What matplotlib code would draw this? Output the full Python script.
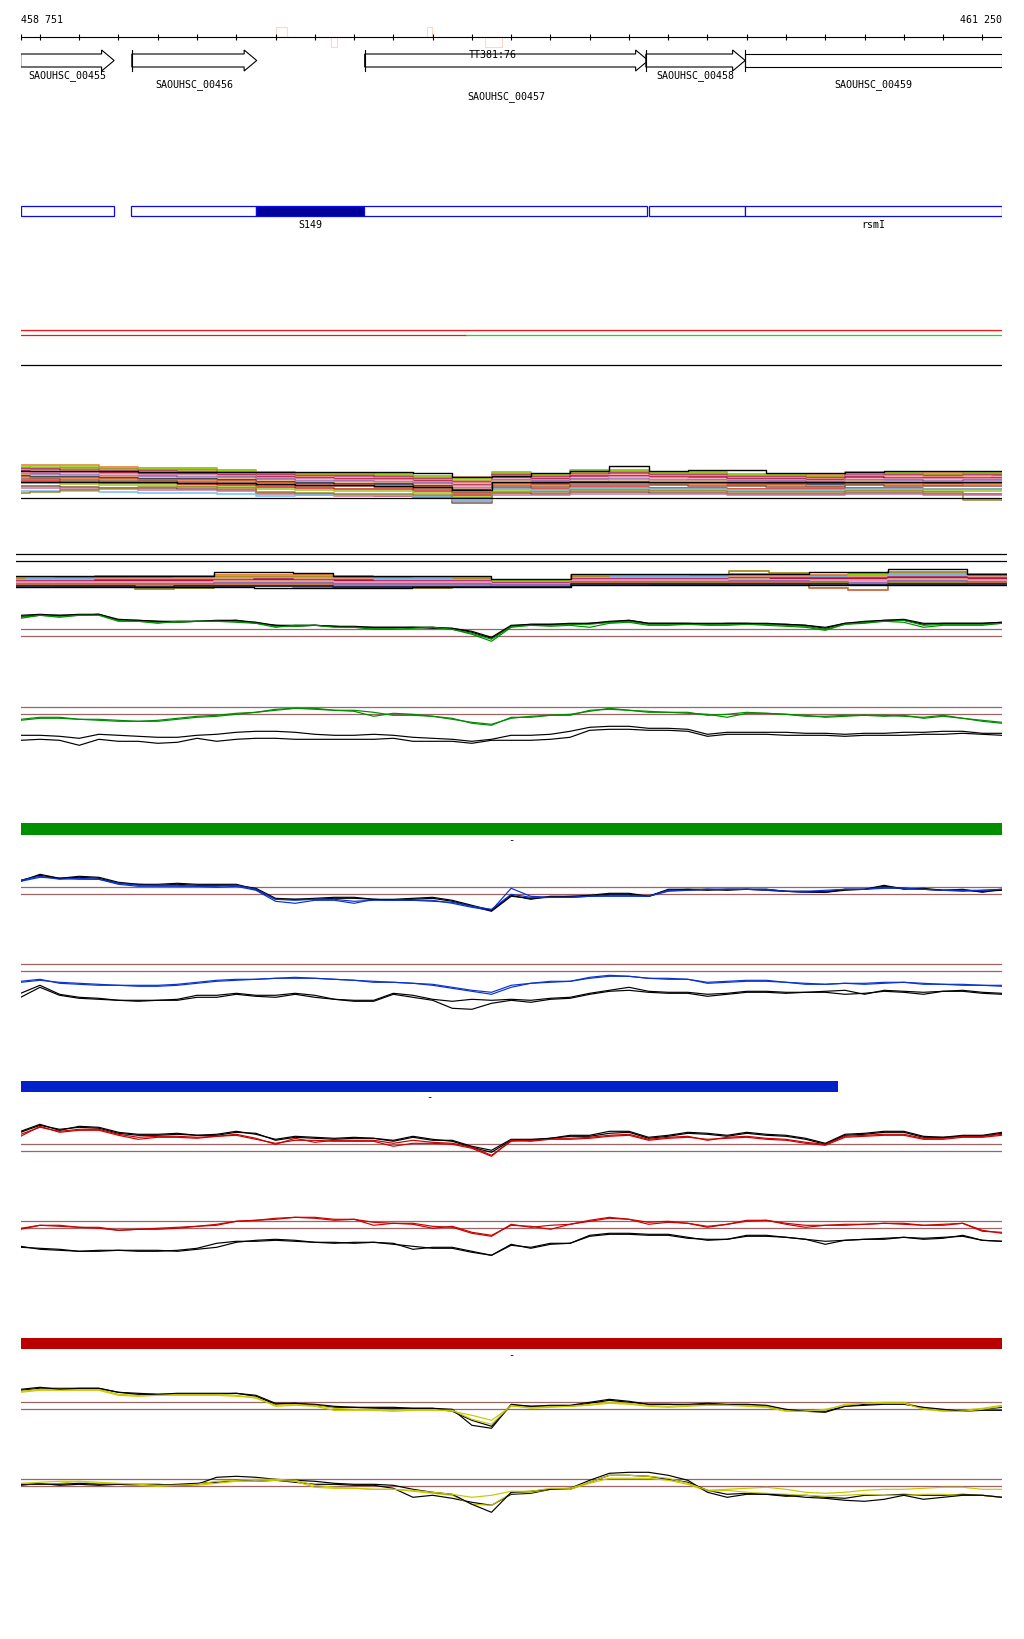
import matplotlib
matplotlib.use("Agg")
import matplotlib.pyplot as plt
from matplotlib.patches import Polygon, Rectangle

# ---------------- data ----------------
START, END = 458751, 461250
TICKS = [458751] + list(range(458800, 461201, 100)) + [461250]
POS = [458751] + list(range(458800, 461201, 50)) + [461250]
POS100 = [458751] + list(range(458800, 461201, 100)) + [461250]

GENE_NAMES = ["SAOUHSC_00455", "SAOUHSC_00456", "SAOUHSC_00457", "SAOUHSC_00458", "SAOUHSC_00459"]
GENE_START = [458620, 459034, 459627, 460343, 460596]
GENE_END = [458989, 459352, 460349, 460596, 461700]
GENE_LANE = [0, 1, 2, 0, 1]
TERM_LABEL = "TT381:76"
TERM_POS = 459953

MARK_START = [459400, 459541, 459786, 459934]
MARK_END = [459428, 459556, 459799, 459977]
MARK_SIDE = [1, -1, 1, -1]

FEAT_NAMES = ["", "", "S149", "", "", "rsmI"]
FEAT_START = [458620, 459033, 459350, 459625, 460351, 460596]
FEAT_END = [458988, 459350, 459625, 460345, 460595, 461700]
FEAT_FILLED = [False, False, True, False, False, False]

COV_SWITCH = 459884
BAR_GREEN_END = 461250
BAR_BLUE_END = 460832
BAR_RED_END = 461250

# multi-sample track 1 (27 points, POS100)
T1_ORANGE = [33,33,33,31,30,30,28,26,25,25,24,22,21,26,24,28,28,26,26,24,24,23,26,26,25,26,26]
T1_LIME = [31,32,31,30,29,29,27,25,24,24,23,21,19,25,23,27,27,25,25,23,23,22,26,25,24,25,25]
T1_OLIVE = [30,30,30,29,28,28,26,24,23,23,22,20,17,24,22,26,26,24,24,22,22,21,25,24,23,24,24]
T1_MAGENTA = [29,29,28,27,27,26,25,23,22,22,21,19,16,23,21,24,25,23,23,21,21,20,23,23,22,23,23]
T1_SALMON = [28,27,27,26,26,25,24,22,21,20,20,18,15,22,20,23,23,22,22,20,20,19,22,22,21,22,21]
T1_DARKRED = [27,26,26,25,24,24,23,21,20,19,19,17,13,21,19,22,22,21,21,19,19,18,21,20,20,20,20]
T1_PINK = [26,25,25,24,23,23,22,20,19,18,18,16,12,19,18,20,21,20,19,18,18,17,19,19,19,19,19]
T1_PURPLE = [24,24,23,22,22,21,21,19,17,17,16,15,10,18,17,19,19,18,18,17,17,16,18,18,17,18,18]
T1_TAN = [23,22,22,21,20,20,19,17,16,16,15,13,9,17,15,17,18,17,17,16,15,15,17,16,16,16,16]
T1_NAVY = [22,21,21,20,19,19,18,16,15,14,14,12,8,15,14,16,16,15,15,14,14,14,15,15,15,15,15]
T1_ORANGE2 = [21,20,20,19,18,18,17,15,13,13,12,11,6,14,13,15,15,14,14,13,13,12,14,14,13,14,14]
T1_BROWN = [19,19,18,17,17,16,15,13,12,12,11,9,5,12,11,13,13,13,12,12,11,11,13,12,12,12,12]
T1_RED = [17,17,16,15,15,14,13,11,10,9,9,7,3,10,9,11,11,10,10,9,9,9,10,10,9,9,9]
T1_YGREEN = [15,15,14,13,13,12,11,9,8,7,7,5,1,8,7,9,9,8,8,7,7,7,8,8,7,7,7]
T1_MAUVE = [12,12,11,10,10,9,8,5,4,3,2,1,-5,5,4,6,6,5,5,4,4,4,5,5,4,4,4]
T1_PINK2 = [10,10,9,9,8,8,7,4,3,2,2,0,-3,3,3,4,4,4,4,3,3,3,4,4,3,3,3]
T1_SKY = [7,7,7,6,5,5,4,2,3,3,3,2,-2,9,8,10,10,9,9,8,8,8,9,9,9,9,9]
T1_OLIVE2 = [5,6,8,10,11,11,10,6,5,4,4,3,0,6,6,8,8,7,7,6,6,6,7,7,6,-2,-2]
T1_BLACK_TOP = [27,27,27,27,26,26,26,26,26,26,26,25,21,22,25,27,32,27,28,28,25,25,26,27,27,27,27]
T1_BLACK_MID = [16,16,16,16,16,15,15,14,13,13,12,11,8,16,16,16,16,16,16,16,16,16,16,16,16,16,16]

# multi-sample track 2 (27 points, POS100)
T2_ORANGE = [12,12,12,13,13,13,14,14,14,13,12,12,12,8,8,14,14,14,14,15,15,14,15,16,16,15,15]
T2_LIME = [11,11,11,12,12,12,13,13,13,12,11,11,11,8,8,13,13,13,13,14,14,13,14,15,15,14,14]
T2_OLIVE = [10,10,11,11,11,11,12,12,12,11,11,10,10,7,7,12,12,12,13,18,16,13,13,17,17,13,13]
T2_SKY = [9,10,10,10,10,12,11,11,11,10,10,10,9,7,7,11,12,12,12,13,13,12,13,14,14,12,12]
T2_SALMON = [9,9,9,10,10,10,10,10,10,10,9,9,9,6,6,11,11,11,11,12,12,11,12,13,13,12,12]
T2_MAGENTA = [8,8,8,9,9,9,9,10,9,9,8,8,8,6,6,10,10,10,10,11,11,11,11,12,12,11,11]
T2_DARKRED = [7,7,7,8,8,8,8,9,8,8,7,7,7,5,5,9,9,9,9,10,10,10,10,11,11,10,10]
T2_TAN = [7,7,7,7,7,7,8,8,8,7,7,7,7,5,5,9,9,9,9,10,9,9,9,10,10,9,9]
T2_PINK = [6,6,6,6,6,6,7,7,7,6,6,6,6,4,4,8,8,8,8,9,9,8,8,9,9,8,8]
T2_PURPLE = [5,5,5,5,5,5,6,6,6,5,5,5,5,4,4,7,7,7,7,8,8,7,6,8,8,7,7]
T2_OLIVE2 = [4,4,3,2,0,1,3,3,2,1,1,1,2,3,3,6,6,6,6,7,7,6,5,6,6,6,6]
T2_RUST = [5,5,4,4,4,4,4,4,4,3,3,3,3,3,3,6,6,5,5,6,6,1,-1,5,5,6,6]
T2_NAVY = [3,3,3,3,2,3,3,3,3,2,2,2,2,2,2,5,5,5,5,5,5,5,4,5,5,5,5]
T2_BLACK_TOP = [13,13,13,13,13,13,17,17,16,13,13,13,13,10,10,15,15,15,15,15,15,17,17,20,20,15,15]
T2_BLACK_BOT = [2,2,2,2,2,2,2,1,1,1,1,2,2,2,2,4,4,4,4,4,4,4,4,4,4,4,4]

# green condition (51 points, POS)
G1_K1 = [14,15,14,15,15,10,9,8,8,8,9,9,7,4,4,4,3,3,2,2,2,2,1,-2,-8,4,5,5,6,6,8,9,6,6,6,6,6,6,6,5,4,2,6,8,9,10,6,6,6,6,7]
G1_K2 = [13,14,14,14,15,9,9,8,7,8,8,9,6,4,3,4,3,2,2,2,2,1,1,-3,-9,3,5,5,5,6,7,9,6,6,6,5,6,6,5,5,4,1,6,7,9,9,5,6,6,6,7]
G1_C1 = [11,14,12,14,14,8,8,6,8,8,8,7,6,2,4,4,2,2,0,0,1,2,0,-5,-12,2,4,3,4,2,6,7,4,4,5,4,4,5,4,3,2,-1,5,6,8,7,2,4,4,4,6]
G1_C2 = [12,14,13,14,15,9,8,7,7,8,8,8,7,3,3,4,3,2,1,1,2,2,0,-4,-10,3,4,4,5,5,7,8,5,5,5,5,5,5,5,4,3,0,5,7,8,9,4,5,5,5,6]
G2_C1 = [-12,-10,-10,-12,-12,-13,-14,-14,-12,-10,-9,-7,-5,-3,-1,-1,-3,-3,-5,-8,-8,-9,-11,-16,-18,-10,-10,-8,-8,-3,-2,-3,-5,-5,-5,-8,-7,-5,-6,-7,-9,-9,-8,-8,-8,-9,-10,-8,-11,-13,-15]
G2_C2 = [-13,-11,-11,-12,-13,-14,-14,-13,-11,-9,-8,-6,-5,-2,-1,-2,-3,-4,-9,-6,-7,-9,-12,-15,-17,-11,-9,-8,-7,-4,-1,-3,-4,-5,-6,-7,-10,-6,-6,-7,-8,-10,-9,-8,-9,-8,-11,-9,-11,-14,-16]
G2_K1 = [-28,-28,-29,-31,-27,-28,-29,-30,-30,-28,-27,-25,-24,-24,-25,-27,-28,-28,-27,-28,-30,-31,-32,-34,-32,-28,-28,-27,-24,-20,-19,-19,-21,-21,-22,-27,-25,-25,-25,-25,-26,-26,-27,-26,-26,-25,-25,-24,-24,-26,-26]
G2_K2 = [-33,-32,-33,-38,-32,-34,-34,-36,-35,-31,-34,-32,-31,-31,-32,-32,-32,-32,-32,-31,-34,-34,-34,-36,-33,-33,-33,-32,-30,-23,-22,-22,-23,-23,-24,-29,-27,-27,-27,-28,-28,-28,-29,-28,-28,-28,-27,-27,-26,-27,-28]

# blue condition
B1_C1 = [7,11,8,9,8,4,2,2,2,1,1,2,-2,-12,-13,-12,-12,-14,-13,-13,-13,-14,-15,-19,-22,-7,-10,-10,-10,-9,-8,-8,-9,-3,-3,-2,-2,-2,-2,-4,-4,-3,-2,-2,0,-1,-2,-3,-3,-3,-2]
B1_C2 = [6,10,9,8,8,3,1,1,1,1,0,1,-3,-14,-16,-13,-13,-16,-12,-13,-13,-13,-16,-20,-23,-1,-9,-10,-9,-9,-9,-9,-9,-4,-3,-2,-2,-2,-3,-4,-5,-4,-2,-2,-1,-1,-2,-3,-4,-3,-2]
B1_K1 = [7,12,9,11,10,5,3,3,4,3,3,3,-2,-12,-12,-11,-10,-10,-12,-12,-11,-10,-13,-18,-23,-8,-12,-9,-9,-8,-6,-6,-9,-2,-2,-3,-2,-2,-2,-4,-4,-5,-2,-2,2,-2,-1,-3,-2,-5,-2]
B1_K2 = [6,13,9,10,9,4,3,2,3,2,2,2,-1,-11,-12,-12,-11,-11,-12,-13,-12,-11,-14,-19,-24,-9,-11,-10,-10,-9,-7,-7,-9,-3,-2,-2,-3,-2,-3,-4,-5,-5,-3,-2,1,-1,-2,-3,-3,-4,-3]
B2_C1 = [-17,-15,-19,-20,-21,-21,-21,-21,-20,-18,-16,-15,-15,-14,-14,-14,-15,-16,-17,-18,-19,-20,-23,-26,-28,-21,-19,-18,-17,-13,-11,-12,-14,-15,-15,-18,-17,-16,-16,-18,-20,-20,-19,-19,-18,-18,-20,-20,-20,-21,-21]
B2_C2 = [-18,-16,-18,-19,-20,-21,-22,-22,-21,-19,-17,-16,-15,-14,-13,-14,-15,-16,-18,-18,-19,-21,-24,-27,-30,-23,-19,-17,-17,-14,-12,-12,-14,-14,-15,-19,-18,-17,-17,-18,-19,-20,-19,-20,-19,-18,-19,-20,-21,-21,-22]
B2_K1 = [-29,-21,-30,-33,-34,-36,-36,-36,-35,-31,-31,-29,-31,-31,-29,-31,-35,-36,-36,-29,-31,-35,-37,-35,-36,-35,-36,-34,-33,-29,-26,-23,-27,-28,-28,-30,-29,-27,-27,-28,-28,-27,-26,-30,-26,-27,-28,-27,-26,-28,-29]
B2_K2 = [-33,-23,-31,-34,-35,-36,-37,-36,-36,-33,-33,-30,-32,-33,-30,-33,-35,-37,-37,-30,-33,-36,-44,-45,-39,-36,-38,-35,-34,-30,-27,-26,-28,-29,-29,-32,-30,-28,-28,-29,-28,-28,-30,-29,-27,-28,-30,-27,-27,-29,-30]

# red condition
R1_K1 = [13,20,14,18,17,12,10,10,11,9,10,13,10,5,8,7,6,7,6,3,7,4,4,-2,-6,5,5,6,9,9,13,13,7,9,12,11,9,12,10,9,6,1,10,11,13,13,8,7,9,9,12]
R1_K2 = [12,19,15,17,16,11,9,9,10,9,9,12,11,4,7,6,5,6,6,4,8,5,3,-3,-8,4,4,6,8,8,11,12,6,8,11,10,8,11,9,8,5,0,9,10,12,12,7,7,8,8,11]
R1_C1 = [8,18,12,14,14,9,5,7,7,6,8,9,5,1,4,4,3,3,3,-2,1,1,0,-4,-12,4,3,5,5,6,8,9,4,6,7,5,6,7,5,4,1,-1,7,8,9,9,5,5,7,7,9]
R1_C2 = [10,17,13,15,15,10,7,8,8,7,8,10,6,0,6,2,4,4,4,1,4,2,1,-3,-11,3,4,6,6,7,9,10,5,7,8,4,7,8,6,5,2,0,8,9,10,10,6,6,8,8,10]
R2_C1 = [-8,-4,-4,-6,-6,-9,-8,-8,-7,-5,-4,0,1,2,4,4,2,2,-1,-2,-2,-5,-6,-12,-15,-3,-6,-4,-3,1,4,2,-1,0,-2,-5,-3,1,1,-2,-4,-4,-4,-3,-2,-3,-4,-4,-2,-10,-11]
R2_C2 = [-7,-4,-5,-6,-7,-9,-8,-7,-6,-5,-3,0,1,3,4,3,1,2,-4,-2,-3,-7,-5,-11,-14,-4,-5,-8,-3,0,3,2,-3,-1,-2,-6,-3,0,1,-3,-6,-4,-3,-3,-2,-2,-4,-3,-2,-9,-12]
R2_K1 = [-26,-27,-28,-30,-29,-29,-29,-29,-30,-28,-26,-21,-19,-18,-19,-21,-22,-21,-21,-22,-28,-26,-26,-30,-34,-24,-26,-22,-22,-14,-12,-12,-13,-13,-16,-19,-18,-14,-14,-16,-18,-23,-19,-18,-17,-16,-18,-17,-14,-19,-20]
R2_K2 = [-25,-28,-29,-30,-30,-29,-30,-30,-29,-27,-22,-20,-20,-19,-20,-21,-21,-22,-21,-23,-25,-27,-27,-31,-34,-23,-27,-23,-22,-15,-13,-13,-14,-14,-17,-18,-18,-15,-15,-16,-18,-20,-19,-18,-18,-16,-17,-16,-15,-19,-20]

# yellow condition
Y1_K1 = [13,15,13,14,14,10,8,8,9,9,9,9,7,-1,-1,-2,-4,-5,-5,-5,-6,-6,-7,-23,-26,-2,-4,-3,-3,0,3,1,-2,-2,-2,-1,-2,-2,-3,-7,-9,-10,-4,-3,-2,-2,-5,-7,-9,-8,-8]
Y1_K2 = [12,14,14,14,14,10,9,8,8,8,8,9,6,-2,-1,-3,-5,-5,-6,-6,-6,-6,-9,-18,-24,-3,-4,-4,-4,-1,2,0,-2,-2,-3,-2,-3,-3,-4,-8,-9,-9,-4,-2,-1,-1,-6,-8,-8,-7,-5]
Y1_C1 = [10,12,12,12,12,7,6,7,7,7,7,6,5,-4,-3,-4,-8,-8,-8,-9,-8,-8,-8,-17,-22,-3,-6,-5,-4,-3,-1,-2,-4,-5,-4,-3,-3,-4,-5,-9,-9,-7,-3,-1,-1,-1,-7,-9,-9,-7,-4]
Y1_C2 = [11,13,13,13,13,8,7,7,8,8,8,7,4,-3,-2,-3,-6,-7,-7,-8,-7,-7,-9,-13,-18,-4,-5,-4,-4,-2,0,-1,-3,-4,-3,-3,-3,-3,-4,-8,-9,-8,-2,-1,0,0,-6,-8,-8,-6,-3]
Y2_K1 = [-5,-5,-5,-4,-5,-5,-5,-5,-6,-5,2,3,2,0,-1,-2,-4,-5,-5,-6,-10,-13,-15,-25,-33,-13,-12,-10,-9,-1,6,7,7,4,-1,-13,-18,-15,-15,-16,-18,-19,-21,-22,-20,-16,-20,-18,-16,-16,-18]
Y2_K2 = [-6,-4,-6,-5,-6,-5,-6,-6,-5,-4,-3,-1,-2,-1,-3,-5,-5,-6,-6,-9,-18,-16,-19,-23,-26,-15,-14,-10,-10,-3,4,4,3,0,-3,-11,-15,-14,-15,-17,-16,-18,-19,-16,-16,-15,-16,-16,-15,-16,-18]
Y2_C1 = [-4,-3,-2,-2,-3,-4,-5,-6,-6,-5,-2,-1,0,0,-1,-6,-8,-9,-10,-10,-11,-13,-15,-18,-16,-12,-12,-9,-9,-3,4,4,3,1,-4,-11,-10,-9,-8,-10,-13,-14,-13,-11,-10,-10,-9,-8,-8,-10,-10]
Y2_C2 = [-5,-5,-4,-2,-5,-5,-6,-7,-6,-6,-4,-2,-2,-1,-2,-8,-9,-9,-10,-10,-12,-14,-16,-25,-26,-14,-13,-10,-10,-4,1,1,1,-1,-5,-12,-11,-13,-14,-15,-16,-17,-16,-15,-16,-16,-15,-15,-16,-16,-18]

# ---------------- style / layout ----------------
W, H = 1024, 1640
X0, X1 = 20.7, 1002.0
FONT = dict(family="DejaVu Sans Mono", size=7.2, color="black")
BROWN = "#9c6464"
GREEN, BLUE, RED, YELLOW = "#008c00", "#0a32d2", "#cc0000", "#c8c800"

fig = plt.figure(figsize=(W / 100, H / 100), dpi=100)
fig.patch.set_facecolor("white")

base = fig.add_axes([X0 / W, 0, (X1 - X0) / W, 1])
base.set_xlim(START, END)
base.set_ylim(H, 0)
base.axis("off")

# coordinate labels
base.text(START, 20, f"{START:,}".replace(",", " "), ha="left", va="center", **FONT)
base.text(END, 20, f"{END:,}".replace(",", " "), ha="right", va="center", **FONT)

# faint marks around the ruler
for s, e, side in zip(MARK_START, MARK_END, MARK_SIDE):
    y = 28 if side == 1 else 38
    base.add_patch(Rectangle((s, y), e - s, 10, facecolor="none",
                             edgecolor="#ffd6c8", lw=0.8, zorder=1))

# ruler
base.plot([START, END], [38, 38], color="black", lw=0.8, zorder=2)
base.vlines(TICKS, 35, 41, color="black", lw=0.8, zorder=2)

# genes
HEAD_BP = 32
LANE_ROWS = [76, 85, 97]
for name, s, e, lane in zip(GENE_NAMES, GENE_START, GENE_END, GENE_LANE):
    sc, ec = max(s, START), min(e, END)
    if e <= END:
        xb = ec - HEAD_BP
        pts = [(sc, 55), (xb, 55), (xb, 51), (ec, 61.5), (xb, 72), (xb, 68), (sc, 68)]
    else:
        pts = [(sc, 55), (ec, 55), (ec, 68), (sc, 68)]
    base.add_patch(Polygon(pts, closed=True, facecolor="white", edgecolor="black",
                           lw=0.8, zorder=3))
    if s >= START:
        base.plot([s, s], [51, 72], color="black", lw=0.8, zorder=4)
    base.text((sc + ec) / 2, LANE_ROWS[lane], name, ha="center", va="center", zorder=5, **FONT)
base.text(TERM_POS, 55.5, TERM_LABEL, ha="center", va="center", zorder=6, **FONT)

# feature boxes
for name, s, e, filled in zip(FEAT_NAMES, FEAT_START, FEAT_END, FEAT_FILLED):
    sc, ec = max(s, START), min(e, END)
    base.add_patch(Rectangle((sc, 207.3), ec - sc, 10,
                             facecolor="#000099" if filled else "white",
                             edgecolor="#0a0aee", lw=0.9, zorder=3))
    if name:
        base.text((sc + ec) / 2, 225.5, name, ha="center", va="center", **FONT)

# coverage lines
base.plot([START, END], [331.3, 331.3], color="#ff1010", lw=0.9)
base.plot([START, COV_SWITCH], [336, 336], color="#ff1010", lw=0.9)
base.plot([COV_SWITCH, END], [336, 336], color="#10e010", lw=0.9)
base.plot([START, END], [366, 366], color="black", lw=0.9)

# condition bars
for end, top, hgt, col in [(BAR_GREEN_END, 824, 11.7, "#008f00"),
                           (BAR_BLUE_END, 1082.3, 10.4, "#0022c8"),
                           (BAR_RED_END, 1338.7, 11.7, "#bb0000")]:
    base.add_patch(Rectangle((START, top), end - START, hgt, facecolor=col,
                             edgecolor="none"))
    base.text((START + end) / 2, top + hgt + 4.5, "-", ha="center", va="center",
              family="DejaVu Sans Mono", size=7.5)


def track_ax(ref_row, x0=X0, x1=X1, up=50, down=55):
    ax = fig.add_axes([x0 / W, 1 - (ref_row + down) / H, (x1 - x0) / W, (up + down) / H])
    ax.set_xlim(START, END)
    ax.set_ylim(-down, up)
    ax.axis("off")
    ax.patch.set_alpha(0)
    return ax


# multi-sample track 1
ax = track_ax(499.3)
t1 = [(T1_ORANGE, "#e87830"), (T1_LIME, "#7adc00"), (T1_OLIVE, "#a88c20"),
      (T1_MAGENTA, "#b4287c"), (T1_SALMON, "#f2907c"), (T1_DARKRED, "#a8143c"),
      (T1_PINK, "#e898b8"), (T1_PURPLE, "#9060b0"), (T1_TAN, "#d8a878"),
      (T1_NAVY, "#182848"), (T1_ORANGE2, "#f06820"), (T1_BROWN, "#8a5a48"),
      (T1_RED, "#d82020"), (T1_YGREEN, "#98c818"), (T1_MAUVE, "#84584c"),
      (T1_PINK2, "#d070a0"), (T1_SKY, "#70c0f0"), (T1_OLIVE2, "#9c8428")]
for vals, col in t1:
    ax.plot(POS100, vals, color=col, lw=1.1, drawstyle="steps-mid")
for vals in (T1_BLACK_TOP, T1_BLACK_MID):
    ax.plot(POS100, vals, color="black", lw=1.0, drawstyle="steps-mid")
ax.axhline(0, color="black", lw=0.9)

# multi-sample track 2
ax = track_ax(590, x0=16, x1=1007)
t2 = [(T2_ORANGE, "#e87830"), (T2_LIME, "#7adc00"), (T2_OLIVE, "#a88c20"),
      (T2_SKY, "#70b8ee"), (T2_SALMON, "#f2907c"), (T2_MAGENTA, "#b4287c"),
      (T2_DARKRED, "#a8143c"), (T2_TAN, "#d8a878"), (T2_PINK, "#e898b8"),
      (T2_PURPLE, "#9060b0"), (T2_OLIVE2, "#9c8428"), (T2_RUST, "#c86a3c"),
      (T2_NAVY, "#182848")]
for vals, col in t2:
    ax.plot(POS100, vals, color=col, lw=1.3, drawstyle="steps-mid")
for vals in (T2_BLACK_TOP, T2_BLACK_BOT):
    ax.plot(POS100, vals, color="black", lw=1.0, drawstyle="steps-mid")
ax.axhline(35, color="black", lw=0.9)
ax.axhline(27.7, color="black", lw=0.9)

# condition sub-tracks
subtracks = [
    (630.3, [(G1_K2, "black"), (G1_C2, GREEN), (G1_K1, "black"), (G1_C1, GREEN)]),
    (708.3, [(G2_K2, "black"), (G2_K1, "black"), (G2_C2, GREEN), (G2_C1, GREEN)]),
    (888.3, [(B1_K2, "black"), (B1_C2, BLUE), (B1_K1, "black"), (B1_C1, BLUE)]),
    (965.3, [(B2_K2, "black"), (B2_K1, "black"), (B2_C2, BLUE), (B2_C1, BLUE)]),
    (1145.3, [(R1_K2, "black"), (R1_C2, RED), (R1_K1, "black"), (R1_C1, RED)]),
    (1222.3, [(R2_K2, "black"), (R2_K1, "black"), (R2_C2, RED), (R2_C1, RED)]),
    (1403.3, [(Y1_K2, "black"), (Y1_C2, YELLOW), (Y1_K1, "black"), (Y1_C1, YELLOW)]),
    (1480.3, [(Y2_K2, "black"), (Y2_C2, YELLOW), (Y2_K1, "black"), (Y2_C1, YELLOW)]),
]
for ref, lines in subtracks:
    ax = track_ax(ref)
    ax.axhline(0, color=BROWN, lw=0.9)
    ax.axhline(-7, color=BROWN, lw=0.9)
    for vals, col in lines:
        ax.plot(POS, vals, color=col, lw=0.85)

fig.savefig("out.png", dpi=100, facecolor="white")
